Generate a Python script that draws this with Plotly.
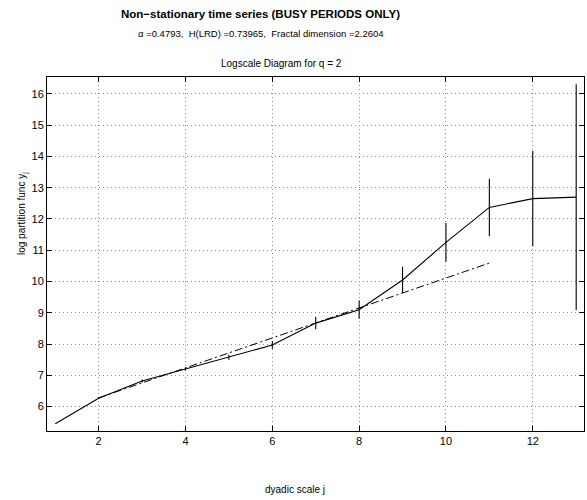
import plotly.graph_objects as go

# dyadic scales and log partition function estimates
scales = [1, 2, 3, 4, 5, 6, 7, 8, 9, 10, 11, 12, 13]
log_partition = [5.45, 6.27, 6.82, 7.20, 7.58, 7.97, 8.67, 9.10, 10.05, 11.25, 12.37, 12.65, 12.70]
conf_halfwidth = [0.0, 0.02, 0.05, 0.05, 0.08, 0.12, 0.20, 0.29, 0.42, 0.62, 0.92, 1.52, 3.61]

# regression fit over scales 2..11 (slope = alpha)
fit_scales = [2, 11]
fit_values = [6.28, 10.59]

x_ticks = [2, 4, 6, 8, 10, 12]
y_ticks = [6, 7, 8, 9, 10, 11, 12, 13, 14, 15, 16]

FONT = "Liberation Sans, Arial, Helvetica, sans-serif"
W, H = 587, 500
ML, MR, MT, MB = 47, 3, 77, 69

fig = go.Figure()

fig.add_trace(go.Scatter(
    x=scales, y=log_partition, mode="lines",
    line=dict(color="black", width=1.1),
    error_y=dict(type="data", array=conf_halfwidth, visible=True,
                 width=0, thickness=1.1, color="black"),
    showlegend=False,
))

fig.add_trace(go.Scatter(
    x=fit_scales, y=fit_values, mode="lines",
    line=dict(color="black", width=1, dash="8px,3px,2px,3px"),
    showlegend=False,
))

axis_common = dict(
    showline=True, linecolor="black", linewidth=1, mirror="ticks",
    ticks="inside", ticklen=5, tickcolor="black", tickwidth=1,
    showgrid=True, gridcolor="#8c8c8c", gridwidth=1, griddash="1px,3px",
    zeroline=False,
    tickfont=dict(family=FONT, size=11, color="black"),
)


def px_to_paper(px, py):
    """Convert pixel position in the page to paper coordinates."""
    pw, ph = W - ML - MR, H - MT - MB
    return (px - ML) / pw, (H - MB - py) / ph


texts = [
    ("<b>Non\u2212stationary time series (BUSY PERIODS ONLY)</b>", 260, 14, 11.5),
    ("\u03b1 =0.4793,  H(LRD) =0.73965,  Fractal dimension =2.2604", 261, 33, 9.5),
    ("Logscale Diagram for q = 2", 281, 63, 10),
    ("dyadic scale j", 295, 489, 10),
]
anns = []
for t, px, py, size in texts:
    xp, yp = px_to_paper(px, py)
    anns.append(dict(text=t, x=xp, y=yp, xref="paper", yref="paper",
                     xanchor="center", yanchor="middle", showarrow=False,
                     font=dict(family=FONT, size=size, color="black")))
xp, yp = px_to_paper(22, 214)
anns.append(dict(text="log partition func y<sub>j</sub>", x=xp, y=yp,
                 xref="paper", yref="paper", textangle=-90,
                 xanchor="center", yanchor="middle", showarrow=False,
                 font=dict(family=FONT, size=10, color="black")))

fig.update_layout(
    width=W, height=H,
    margin=dict(l=ML, r=MR, t=MT, b=MB),
    paper_bgcolor="white", plot_bgcolor="white",
    xaxis=dict(range=[0.81, 13.18], tickvals=x_ticks, **axis_common),
    yaxis=dict(range=[5.22, 16.54], tickvals=y_ticks, **axis_common),
    annotations=anns,
)

fig.write_html("out.html")
